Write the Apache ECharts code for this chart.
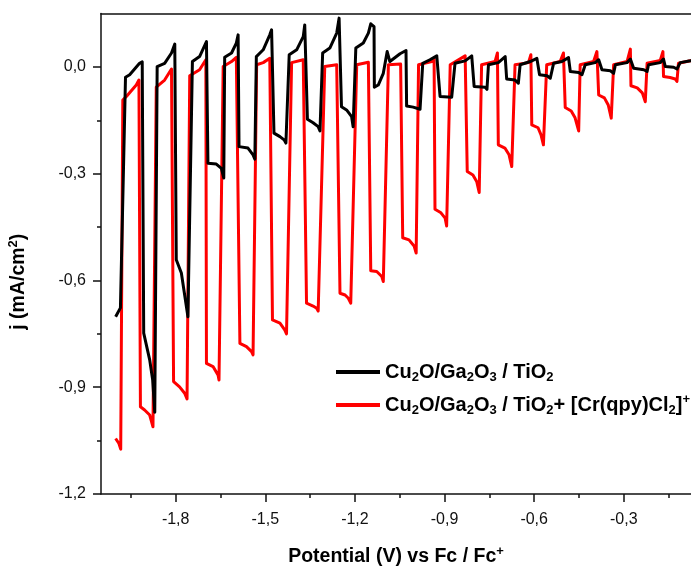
<!DOCTYPE html>
<html>
<head>
<meta charset="utf-8">
<script src="https://cdn.jsdelivr.net/npm/echarts@6/dist/echarts.min.js"></script>
<style>
html,body{margin:0;padding:0;background:#fff;}
#chart{width:691px;height:571px;}
</style>
</head>
<body>
<div id="chart"></div>
<script>
// ---- data ----
const xTickValues = [-1.8, -1.5, -1.2, -0.9, -0.6, -0.3];
const xMinorValues = [-1.95, -1.65, -1.35, -1.05, -0.75, -0.45, -0.15];
const yTickValues = [0, -0.3, -0.6, -0.9, -1.2];
const yMinorValues = [-0.15, -0.45, -0.75, -1.05];

const seriesNames = ['Cu2O/Ga2O3 / TiO2', 'Cu2O/Ga2O3 / TiO2+ [Cr(qpy)Cl2]+'];

const blackX = [-2.001,-1.985,-1.968,-1.954,-1.921,-1.912,-1.907,-1.887,-1.877,-1.870,-1.862,-1.837,-1.814,-1.803,-1.798,-1.781,-1.759,-1.744,-1.720,-1.697,-1.692,-1.664,-1.647,-1.639,-1.636,-1.613,-1.597,-1.591,-1.588,-1.558,-1.541,-1.535,-1.530,-1.507,-1.485,-1.479,-1.471,-1.451,-1.437,-1.431,-1.420,-1.395,-1.373,-1.368,-1.359,-1.340,-1.323,-1.317,-1.308,-1.284,-1.261,-1.253,-1.245,-1.228,-1.211,-1.206,-1.197,-1.172,-1.155,-1.147,-1.136,-1.135,-1.122,-1.105,-1.092,-1.083,-1.049,-1.029,-1.027,-1.005,-0.982,-0.973,-0.949,-0.926,-0.915,-0.876,-0.865,-0.831,-0.809,-0.801,-0.764,-0.758,-0.753,-0.720,-0.697,-0.692,-0.664,-0.653,-0.647,-0.613,-0.591,-0.582,-0.557,-0.546,-0.535,-0.507,-0.485,-0.479,-0.451,-0.440,-0.429,-0.396,-0.384,-0.373,-0.345,-0.334,-0.328,-0.289,-0.278,-0.267,-0.233,-0.222,-0.217,-0.178,-0.167,-0.161,-0.133,-0.122,-0.111,-0.077,-0.060];
const blackY = [-0.702,-0.677,-0.029,-0.022,0.010,0.014,-0.748,-0.823,-0.880,-0.970,0.001,0.010,0.039,0.064,-0.542,-0.579,-0.702,0.015,0.029,0.071,-0.271,-0.273,-0.285,-0.312,0.027,0.039,0.067,0.090,-0.224,-0.228,-0.247,-0.259,0.029,0.048,0.090,0.104,-0.186,-0.196,-0.205,-0.214,0.034,0.048,0.085,0.118,-0.147,-0.157,-0.168,-0.180,0.039,0.053,0.095,0.137,-0.112,-0.121,-0.140,-0.168,0.053,0.067,0.095,0.121,0.113,-0.057,-0.051,-0.018,0.043,0.015,0.037,0.046,-0.110,-0.113,-0.119,0.010,0.020,0.031,-0.083,-0.085,0.010,0.017,0.031,-0.055,-0.057,-0.063,0.006,0.012,0.029,-0.034,-0.037,-0.046,0.006,0.015,0.024,-0.022,-0.025,-0.032,0.010,0.015,0.026,-0.013,-0.016,-0.022,0.006,0.012,0.020,-0.008,-0.011,-0.018,0.006,0.012,0.022,-0.004,-0.008,-0.013,0.006,0.012,0.022,0.001,-0.001,-0.006,0.012,0.017,0.020];

const redX = [-2.001,-1.990,-1.984,-1.977,-1.965,-1.932,-1.923,-1.918,-1.904,-1.887,-1.876,-1.865,-1.837,-1.814,-1.807,-1.787,-1.770,-1.762,-1.753,-1.720,-1.699,-1.697,-1.675,-1.658,-1.655,-1.641,-1.613,-1.597,-1.585,-1.563,-1.546,-1.541,-1.529,-1.507,-1.485,-1.476,-1.451,-1.435,-1.429,-1.412,-1.373,-1.362,-1.340,-1.328,-1.323,-1.301,-1.261,-1.250,-1.233,-1.222,-1.214,-1.194,-1.155,-1.147,-1.127,-1.110,-1.105,-1.088,-1.047,-1.040,-1.019,-1.002,-0.995,-0.987,-0.943,-0.935,-0.932,-0.912,-0.898,-0.893,-0.881,-0.831,-0.824,-0.805,-0.792,-0.784,-0.776,-0.731,-0.723,-0.720,-0.698,-0.684,-0.675,-0.664,-0.619,-0.611,-0.608,-0.587,-0.577,-0.569,-0.558,-0.513,-0.502,-0.496,-0.476,-0.463,-0.451,-0.446,-0.401,-0.390,-0.384,-0.365,-0.352,-0.342,-0.334,-0.289,-0.278,-0.276,-0.255,-0.238,-0.228,-0.222,-0.178,-0.169,-0.167,-0.145,-0.128,-0.122,-0.117,-0.077,-0.060];
const redY = [-1.044,-1.058,-1.074,-0.093,-0.083,-0.051,-0.037,-0.955,-0.964,-0.978,-1.011,-0.057,-0.037,-0.006,-0.884,-0.899,-0.917,-0.933,-0.025,-0.008,0.020,-0.833,-0.842,-0.866,-0.880,0.001,0.015,0.027,-0.777,-0.786,-0.800,-0.809,0.006,0.012,0.024,-0.711,-0.720,-0.739,-0.750,0.012,0.020,-0.664,-0.672,-0.678,-0.686,0.001,0.006,-0.636,-0.641,-0.650,-0.664,0.006,0.013,-0.573,-0.575,-0.589,-0.603,0.006,0.008,-0.480,-0.486,-0.503,-0.523,0.006,0.015,0.025,-0.400,-0.410,-0.425,-0.447,0.006,0.031,-0.294,-0.304,-0.323,-0.353,0.006,0.015,0.039,-0.219,-0.228,-0.247,-0.280,0.006,0.012,0.034,-0.163,-0.171,-0.191,-0.219,0.006,0.015,0.039,-0.114,-0.124,-0.143,-0.180,0.006,0.015,0.043,-0.079,-0.087,-0.107,-0.144,0.006,0.015,0.050,-0.053,-0.059,-0.073,-0.098,0.010,0.018,0.043,-0.027,-0.030,-0.034,-0.041,0.010,0.017,0.020];

// ---- chart ----
const zip = (xs, ys) => xs.map((x, i) => [x, ys[i]]);
const fmt = v => v.toFixed(1).replace('.', ',');
const FONT = '"Liberation Sans", Arial, sans-serif';
const AX = '#111';
function richFor(size) {
  const s = Math.round(size * 0.65);
  return {
    sub: {fontSize: s, fontWeight: 'bold', fontFamily: FONT, color: '#000', verticalAlign: 'bottom', lineHeight: s + 1},
    sup: {fontSize: s, fontWeight: 'bold', fontFamily: FONT, color: '#000', verticalAlign: 'top', lineHeight: s + 1}
  };
}
const legendLabels = {};
legendLabels[seriesNames[0]] = 'Cu{sub|2}O/Ga{sub|2}O{sub|3} / TiO{sub|2}';
legendLabels[seriesNames[1]] = 'Cu{sub|2}O/Ga{sub|2}O{sub|3} / TiO{sub|2}+ [Cr(qpy)Cl{sub|2}]{sup|+}';

const xMin = -2.05, xMax = -0.075;
const chart = echarts.init(document.getElementById('chart'), null, {renderer: 'canvas'});
chart.setOption({
  animation: false,
  backgroundColor: '#fff',
  grid: {left: 101, top: 13.5, right: 0, bottom: 77, containLabel: false, outerBoundsMode: 'none'},
  xAxis: [
    {
      type: 'value', min: xMin, max: xMax, position: 'bottom',
      name: 'Potential (V) vs Fc / Fc{sup|+}', nameLocation: 'middle', nameGap: 51,
      nameTextStyle: {fontSize: 19.5, fontWeight: 'bold', fontFamily: FONT, color: '#000', lineHeight: 24, rich: richFor(19.5)},
      axisLine: {show: true, onZero: false, lineStyle: {color: AX, width: 1.5}},
      axisTick: {show: true, inside: false, length: 8, lineStyle: {color: AX, width: 1.5}, customValues: xTickValues},
      axisLabel: {show: true, margin: 18, fontSize: 16, fontFamily: FONT, color: '#111', formatter: fmt, customValues: xTickValues},
      splitLine: {show: false}
    },
    {
      type: 'value', min: xMin, max: xMax, position: 'bottom',
      axisLine: {show: false, onZero: false},
      axisTick: {show: true, inside: false, length: 4, lineStyle: {color: AX, width: 1.5}, customValues: xMinorValues},
      axisLabel: {show: false, customValues: xMinorValues},
      splitLine: {show: false}
    },
    {
      type: 'value', min: xMin, max: xMax, position: 'top',
      axisLine: {show: true, onZero: false, lineStyle: {color: AX, width: 1.5}},
      axisTick: {show: false}, axisLabel: {show: false}, splitLine: {show: false}
    }
  ],
  yAxis: [
    {
      type: 'value', min: -1.2, max: 0.15, position: 'left',
      name: 'j (mA/cm{sup|2})', nameLocation: 'middle', nameGap: 70, nameRotate: 90,
      nameTextStyle: {fontSize: 19.5, fontWeight: 'bold', fontFamily: FONT, color: '#000', lineHeight: 24, padding: [0, 56, 0, 0], rich: richFor(19.5)},
      axisLine: {show: true, onZero: false, lineStyle: {color: AX, width: 1.5}},
      axisTick: {show: true, inside: false, length: 8, lineStyle: {color: AX, width: 1.5}, customValues: yTickValues},
      axisLabel: {show: true, margin: 15, fontSize: 16, fontFamily: FONT, color: '#111', formatter: fmt, customValues: yTickValues},
      splitLine: {show: false}
    },
    {
      type: 'value', min: -1.2, max: 0.15, position: 'left',
      axisLine: {show: false, onZero: false},
      axisTick: {show: true, inside: false, length: 4, lineStyle: {color: AX, width: 1.5}, customValues: yMinorValues},
      axisLabel: {show: false, customValues: yMinorValues},
      splitLine: {show: false}
    }
  ],
  legend: {
    orient: 'vertical', left: 331, top: 355, itemWidth: 44, itemHeight: 4, itemGap: 9,
    icon: 'rect',
    data: [
      {name: seriesNames[0], itemStyle: {color: '#000'}},
      {name: seriesNames[1], itemStyle: {color: '#ff0000'}}
    ],
    formatter: n => legendLabels[n],
    textStyle: {fontSize: 20, fontWeight: 'bold', fontFamily: FONT, color: '#000', lineHeight: 24, padding: [0, 0, 0, 0], rich: richFor(20)}
  },
  series: [
    {
      name: seriesNames[1], type: 'line', xAxisIndex: 0, yAxisIndex: 0,
      data: zip(redX, redY), showSymbol: false, symbol: 'none', clip: true, z: 2,
      lineStyle: {color: '#ff0000', width: 3, join: 'round'}, itemStyle: {color: '#ff0000'}
    },
    {
      name: seriesNames[0], type: 'line', xAxisIndex: 0, yAxisIndex: 0,
      data: zip(blackX, blackY), showSymbol: false, symbol: 'none', clip: true, z: 3,
      lineStyle: {color: '#000', width: 3, join: 'round'}, itemStyle: {color: '#000'}
    }
  ]
});
</script>
</body>
</html>
